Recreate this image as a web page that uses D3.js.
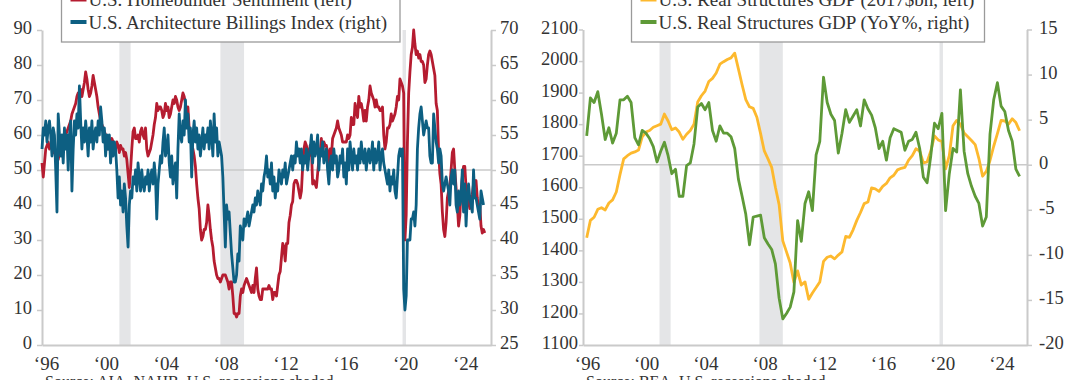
<!DOCTYPE html>
<html><head><meta charset="utf-8">
<script src="https://cdn.jsdelivr.net/npm/d3@7"></script>
<style>
html,body{margin:0;padding:0;background:#fff;}
svg{display:block;}
</style></head><body>
<svg id="c" width="1080" height="380"></svg>
<script>
// ---------- DATA ----------
// NAHB Homebuilder Sentiment, monthly from Jan 1996 (left axis)
const nahb = [
52,48,52,56,57,58,56,57,57,55,55,54,
54,53,55,56,56,57,58,60,61,62,63,64,
66,67,68,69,71,72,71,73,71,73,75,78,
76,73,71,72,74,77,75,73,71,68,66,64,
63,62,61,60,58,56,57,58,59,58,57,56,
58,57,55,57,56,56,54,55,53,49,45,50,
56,61,62,59,59,60,58,61,62,60,59,62,
56,54,55,56,58,60,63,65,69,67,68,68,
67,65,66,69,67,68,65,66,68,70,69,71,
70,68,67,68,70,72,71,69,65,68,62,59,
57,56,54,51,46,42,39,33,30,31,33,33,
35,40,37,33,30,28,24,22,20,19,19,18,
19,20,20,20,19,18,16,18,18,14,9,9,
8,9,9,14,16,15,17,18,19,18,17,16,
15,17,15,19,22,16,14,13,13,16,16,16,
16,16,17,16,16,13,15,15,14,17,20,21,
25,29,28,24,29,29,35,37,40,41,46,47,
47,46,44,42,44,51,56,58,57,55,54,57,
56,46,47,46,45,49,53,55,59,54,58,57,
57,55,52,56,54,59,60,61,62,64,62,61,
60,58,58,58,58,60,59,60,65,63,63,69,
67,65,71,68,69,67,64,67,64,68,70,74,
72,71,70,68,70,68,68,67,67,68,60,56,
58,62,62,63,66,64,65,66,68,71,70,76,
75,74,72,30,37,58,72,78,83,85,90,86,
83,84,82,83,81,81,80,75,76,80,83,84,
83,81,79,77,69,67,55,49,46,38,33,31,
35,42,44,45,50,55,56,50,45,40,34,37,
44,48,51,51,45,43,41,39,41,43,46,46,
47,42,39,40,34,32,33,32
];
// Architecture Billings Index, monthly from Jan 1996 (right axis)
const abi = [
53,56,55,57,54,56,57,55,52,56,55,50,
44,58,55,52,55,51,56,53,55,50,55,57,
47,53,57,55,58,56,62,57,53,56,54,57,
55,52,56,54,57,53,55,56,54,57,55,59,
57,54,56,52,55,53,55,51,54,52,54,53,
50,46,49,45,47,44,48,46,42,39,45,47,
46,49,48,50,47,51,49,47,50,48,47,49,
48,50,47,49,50,48,51,49,43,48,50,52,
51,54,56,52,53,55,51,49,52,48,50,51,
46,53,58,55,54,57,55,60,56,58,54,56,
49,55,57,54,56,53,55,52,54,56,53,55,
54,56,53,57,55,52,58,54,56,52,54,53,
52,49,44,39,45,43,44,41,38,36,34,34,
35,38,37,42,41,40,43,42,43,44,42,43,
44,45,44,46,45,47,46,45,48,47,49,50,
52,49,50,48,51,47,49,46,48,47,50,49,
48,50,49,51,48,49,50,51,52,50,52,51,
54,52,53,51,53,50,52,51,53,50,52,53,
55,51,54,52,53,55,50,53,52,54,51,52,
53,50,48,51,52,50,53,51,52,49,50,52,
51,53,49,51,48,53,50,54,52,50,53,51,
52,50,53,51,54,52,51,53,50,52,53,51,
52,54,50,53,51,52,54,50,52,53,51,50,
49,48,50,47,49,48,50,47,46,49,52,53,
52,53,33,30,32,40,40,40,43,43,44,42,
45,53,56,58,59,57,55,56,57,56,56,52,
51,51,58,56,54,53,51,53,52,48,47,48,
49,48,47,45,49,50,48,50,45,44,47,45,
46,50,44,48,42,46,48,46,45,44,50,46,
46,45,44,43,47,46,45
];
// U.S. Real Structures GDP, 2017$bn, quarterly from 1996Q1 (left axis)
const structLevel = [
1440,1495,1505,1530, 1535,1528,1550,1560, 1585,1640,1690,1700, 1708,1712,1718,1760,
1775,1780,1790,1795, 1800,1832,1810,1782, 1788,1775,1752,1768, 1780,1800,1870,1890,
1905,1935,1945,1962, 1990,1998,2005,2010, 2025,1975,1925,1878, 1855,1850,1822,1770,
1715,1690,1663,1600, 1545,1430,1395,1360, 1298,1335,1290,1300, 1245,1265,1282,1300,
1365,1378,1382,1373, 1385,1395,1444,1441, 1465,1495,1520,1548, 1553,1598,1595,1587,
1603,1612,1630,1638, 1655,1660,1663,1686, 1700,1722,1715,1677, 1680,1715,1763,1750,
1745,1658,1700,1795, 1812,1800,1772,1760, 1748,1735,1691,1635, 1650,1685,1730,1770,
1812,1810,1800,1817, 1805,1779
];
// U.S. Real Structures GDP, YoY %, quarterly from 1996Q1 (right axis)
const structYoY = [
3.2,7.4,6.9,8.1, 5.6,2.8,4.1,2.4, 3.5,7.2,7.2,7.6, 6.9,3.0,2.2,3.8,
3.5,2.9,2.0,0.3, 1.5,2.5,1.0,-1.0, -0.5,-3.5,-3.5,-0.1, 0.2,2.3,6.4,6.8,
6.1,6.9,3.8,2.6, 4.3,3.5,3.5,3.1, 1.8,-1.6,-3.5,-5.5, -8.9,-5.8,-5.7,-5.6,
-8.1,-8.8,-9.4,-11.0, -14.8,-17.1,-16.5,-15.8, -14.1,-6.2,-8.5,-4.3, -3.0,-5.1,1.1,2.6,
9.7,6.9,5.6,4.9, 1.3,3.5,6.1,4.7, 5.4,6.1,4.3,7.2, 6.2,5.5,4.1,1.8,
2.6,0.5,3.0,4.0, 3.8,3.6,1.6,2.6, 2.8,3.6,1.8,-1.4, -2.0,1.0,4.6,4.0,
5.7,-5.1,-1.0,1.8, 1.4,8.3,1.5,-1.0, -2.4,-3.5,-4.3,-6.8, -5.8,3.4,7.2,9.1,
6.5,5.9,3.8,2.6, -0.5,-1.3
];
const recessions = [[2001.17, 2001.92], [2007.92, 2009.5], [2020.09, 2020.32]];
const xTickYears = [1996, 2000, 2004, 2008, 2012, 2016, 2020, 2024];
const xTickLabels = ["\u201896", "\u201800", "\u201804", "\u201808", "\u201812", "\u201816", "\u201820", "\u201824"];
const leftTicksA = [0, 10, 20, 30, 40, 50, 60, 70, 80, 90];
const rightTicksA = [25, 30, 35, 40, 45, 50, 55, 60, 65, 70];
const leftTicksB = [1100, 1200, 1300, 1400, 1500, 1600, 1700, 1800, 1900, 2000, 2100];
const rightTicksB = [-20, -15, -10, -5, 0, 5, 10, 15];
const legendA = ["U.S. Homebuilder Sentiment (left)", "U.S. Architecture Billings Index (right)"];
const legendB = ["U.S. Real Structures GDP (2017$bn, left)", "U.S. Real Structures GDP (YoY%, right)"];
const sources = ["Source: AIA, NAHB, U.S. recessions shaded.", "Source: BEA, U.S. recessions shaded."];

// ---------- DRAW ----------
const FONT = "'Liberation Serif','Times New Roman',serif";
const AXIS = "#cacaca";
const TXT = "#333";
const plain = d => String(d);
const svg = d3.select("#c");
svg.append("rect").attr("width", 1080).attr("height", 380).attr("fill", "#fff");

function panel(cfg) {
  const g = svg.append("g");
  const x = d3.scaleLinear().domain([1996, 2026]).range([cfg.x0, cfg.x1]);
  const yL = d3.scaleLinear().domain(cfg.leftDomain).range([cfg.yBot, cfg.yTop]);
  const yR = d3.scaleLinear().domain(cfg.rightDomain).range([cfg.yBot, cfg.yTop]);

  g.selectAll("rect.rec").data(recessions).enter().append("rect")
    .attr("x", d => x(d[0])).attr("width", d => x(d[1]) - x(d[0]))
    .attr("y", cfg.yTop).attr("height", cfg.yBot - cfg.yTop)
    .attr("fill", "#e4e5e7");

  const refY = cfg.refScale === "left" ? yL(cfg.refValue) : yR(cfg.refValue);
  g.append("line").attr("x1", cfg.x0).attr("x2", cfg.x1).attr("y1", refY).attr("y2", refY)
    .attr("stroke", AXIS).attr("stroke-width", 1.5);

  function styleAxis(a, dy) {
    a.attr("font-family", FONT).attr("font-size", 18.5);
    a.select(".domain").attr("stroke", AXIS).attr("stroke-width", 2);
    a.selectAll(".tick line").attr("stroke", AXIS).attr("stroke-width", 1.5);
    a.selectAll(".tick text").attr("fill", TXT);
    if (dy !== undefined) a.selectAll(".tick text").attr("dy", dy);
  }
  const aL = g.append("g").attr("transform", `translate(${cfg.x0},0)`)
    .call(d3.axisLeft(yL).tickValues(cfg.leftTicks).tickFormat(plain).tickSize(cfg.lTick).tickSizeOuter(0).tickPadding(cfg.lPad));
  styleAxis(aL, "0.2em");
  const aR = g.append("g").attr("transform", `translate(${cfg.x1},0)`)
    .call(d3.axisRight(yR).tickValues(cfg.rightTicks).tickFormat(plain).tickSize(5).tickSizeOuter(0).tickPadding(cfg.rPad));
  styleAxis(aR, "0.2em");
  const aB = g.append("g").attr("transform", `translate(0,${cfg.yBot})`)
    .call(d3.axisBottom(x).tickValues(xTickYears).tickFormat((d, i) => xTickLabels[i]).tickSize(0).tickSizeOuter(0));
  styleAxis(aB);
  aB.attr("font-size", 19);
  aB.selectAll(".tick text").attr("dy", null).attr("y", 24.5).attr("dx", 4);

  cfg.series.forEach(s => {
    const sc = s.axis === "left" ? yL : yR;
    const line = d3.line().x((d, i) => x(s.date(i))).y(d => sc(d)).curve(d3.curveLinear);
    g.append("path").datum(s.data).attr("d", line).attr("fill", "none")
      .attr("stroke", s.color).attr("stroke-width", 2.8).attr("stroke-linejoin", "round");
  });

  // legend
  const lg = g.append("g");
  lg.append("rect").attr("x", cfg.lgX).attr("y", -20).attr("width", cfg.lgW).attr("height", 62)
    .attr("fill", "#fff").attr("stroke", "#9a9a9a").attr("stroke-width", 1.3);
  cfg.series.forEach((s, i) => {
    const cy = -0.5 + i * 22.5;
    lg.append("line").attr("x1", cfg.lgX + 9).attr("x2", cfg.lgX + 25).attr("y1", cy).attr("y2", cy)
      .attr("stroke", s.color).attr("stroke-width", 4);
    lg.append("text").attr("x", cfg.lgX + 27).attr("y", cy + 6.5)
      .attr("font-family", FONT).attr("font-size", 19).attr("fill", TXT).text(cfg.legend[i]);
  });
  g.append("text").attr("x", cfg.x0 + 3).attr("y", 387).attr("font-family", FONT)
    .attr("font-size", 16).attr("fill", TXT).text(cfg.source);
}

const monthly = i => 1996 + i / 12;
const quarterly = i => 1996 + (i + 1) / 4;

panel({
  x0: 42, x1: 491, yTop: 30, yBot: 345,
  leftDomain: [0, 90], rightDomain: [25, 70],
  leftTicks: leftTicksA, rightTicks: rightTicksA,
  lTick: 5, lPad: 5, rPad: 4,
  refScale: "left", refValue: 50,
  series: [
    {data: nahb, axis: "left", color: "#b51c30", date: monthly},
    {data: abi, axis: "right", color: "#0d5f82", date: monthly}
  ],
  legend: legendA, lgX: 61.5, lgW: 338.5, source: sources[0]
});
panel({
  x0: 583, x1: 1027, yTop: 29.5, yBot: 345,
  leftDomain: [1100, 2100], rightDomain: [-20, 15],
  leftTicks: leftTicksB, rightTicks: rightTicksB,
  lTick: 4, lPad: 1, rPad: 7,
  refScale: "right", refValue: 0,
  series: [
    {data: structLevel, axis: "left", color: "#fdb92e", date: quarterly},
    {data: structYoY, axis: "right", color: "#5e9a37", date: quarterly}
  ],
  legend: legendB, lgX: 631.5, lgW: 353, source: sources[1]
});
</script>
</body></html>
